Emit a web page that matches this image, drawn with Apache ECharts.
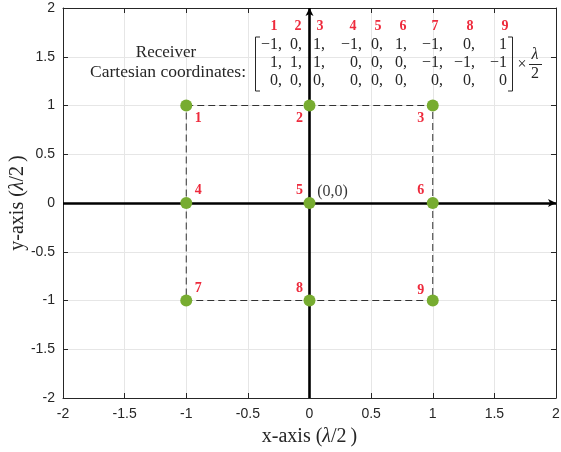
<!DOCTYPE html>
<html>
<head>
<meta charset="utf-8">
<script src="https://cdn.jsdelivr.net/npm/echarts@6/dist/echarts.min.js"></script>
<style>
  html, body { margin: 0; padding: 0; background: #fff; }
  #chart { width: 561px; height: 452px; }
</style>
</head>
<body>
<div id="chart"></div>
<script>
// Receiver positions in units of lambda/2
const receiverIds = ['1', '2', '3', '4', '5', '6', '7', '8', '9'];
const receiverX = [-1, 0, 1, -1, 0, 1, -1, 0, 1];
const receiverY = [1, 1, 1, 0, 0, 0, -1, -1, -1];
const receiverZ = [0, 0, 0, 0, 0, 0, 0, 0, 0];
// Outline of the array, walked around its border
const outlineOrder = ['1', '2', '3', '6', '9', '8', '7', '4', '1'];
const axisRange = [-2, 2];
const tickStep = 0.5;
const originText = '(0,0)';

// Label placement for each receiver number (pixel offsets from the marker)
const labelOffsets = [
  [12, 13], [-10, 13], [-12, 13],
  [12, -13], [-10, -13], [-12, -13],
  [12, -12], [-10, -12], [-12, -10]
];

const SERIF = '"Liberation Serif", "Times New Roman", serif';
const SANS = '"Liberation Sans", Arial, Helvetica, sans-serif';
const RED = '#ee2a3c';
const GREEN = '#77ac30';
const INK = '#262626';

const chart = echarts.init(document.getElementById('chart'), null, { renderer: 'canvas' });

const points = receiverIds.map((id, i) => ({
  value: [receiverX[i], receiverY[i]],
  label: {
    show: true,
    formatter: id,
    position: 'inside',
    offset: labelOffsets[i],
    color: RED,
    fontFamily: SERIF,
    fontWeight: 'bold',
    fontSize: 14
  }
}));

const outline = outlineOrder.map(id => {
  const i = receiverIds.indexOf(id);
  return [receiverX[i], receiverY[i]];
});

// Matrix text built from the receiver coordinates
const fmt = v => (v < 0 ? '\u2212' + Math.abs(v) : String(v));
const matrixRows = [receiverX, receiverY, receiverZ];
const colRight = [282, 302, 325, 362, 383, 407, 443, 475, 507];
const headerX = [274, 298, 320, 353, 378, 403, 435, 470, 505];
const rowY = [45, 63, 81];

const graphics = [];
receiverIds.forEach((id, j) => {
  graphics.push({
    type: 'text', z: 100,
    style: { text: id, x: headerX[j], y: 26, fill: RED, font: 'bold 14px ' + SERIF, align: 'center', verticalAlign: 'middle' }
  });
});
matrixRows.forEach((row, r) => {
  row.forEach((v, j) => {
    const txt = fmt(v) + (j < row.length - 1 ? ',' : '');
    graphics.push({
      type: 'text', z: 100,
      style: { text: txt, x: colRight[j], y: rowY[r], fill: INK, font: '16px ' + SERIF, align: 'right', verticalAlign: 'middle' }
    });
  });
});
// brackets
graphics.push({
  type: 'polyline', z: 100,
  shape: { points: [[260, 37], [255.5, 37], [255.5, 91], [260, 91]] },
  style: { stroke: INK, lineWidth: 1, fill: null }
});
graphics.push({
  type: 'polyline', z: 100,
  shape: { points: [[508, 37], [512.5, 37], [512.5, 91], [508, 91]] },
  style: { stroke: INK, lineWidth: 1, fill: null }
});
// scale factor  x lambda/2
graphics.push({
  type: 'text', z: 100,
  style: { text: '\u00d7', x: 522, y: 65, fill: INK, font: '16px ' + SERIF, align: 'center', verticalAlign: 'middle' }
});
graphics.push({
  type: 'text', z: 100,
  style: { text: '\u03bb', x: 535, y: 55, fill: INK, font: 'italic 16px ' + SERIF, align: 'center', verticalAlign: 'middle' }
});
graphics.push({
  type: 'line', z: 100,
  shape: { x1: 529, y1: 64.5, x2: 542, y2: 64.5 },
  style: { stroke: INK, lineWidth: 1 }
});
graphics.push({
  type: 'text', z: 100,
  style: { text: '2', x: 535, y: 74, fill: INK, font: '16px ' + SERIF, align: 'center', verticalAlign: 'middle' }
});
graphics.push({
  type: 'text', z: 100,
  style: { text: 'Receiver', x: 166, y: 53, fill: INK, font: '17px ' + SERIF, align: 'center', verticalAlign: 'middle' }
});
graphics.push({
  type: 'text', z: 100,
  style: { text: 'Cartesian coordinates:', x: 246, y: 72, fill: INK, font: '17.5px ' + SERIF, align: 'right', verticalAlign: 'middle' }
});

const nameRich = {
  a: { fontFamily: SERIF, fontSize: 20, color: INK },
  b: { fontFamily: SERIF, fontSize: 20, color: INK, fontStyle: 'italic' }
};

const boxAxis = (extra) => Object.assign({
  type: 'value',
  min: axisRange[0],
  max: axisRange[1],
  interval: tickStep,
  axisLine: { show: true, onZero: false, lineStyle: { color: INK, width: 1 } },
  axisTick: { show: true, inside: true, length: 5, lineStyle: { color: INK } },
  splitLine: { show: true, lineStyle: { color: '#e6e6e6', width: 1 } }
}, extra);

const option = {
  backgroundColor: '#fff',
  animation: false,
  grid: { left: 63, right: 5, top: 8, bottom: 54, containLabel: false, outerBoundsMode: 'none' },
  xAxis: [
    boxAxis({
      position: 'bottom',
      name: '{a|x-axis (}{b|\u03bb}{a|/2\u2009)}',
      nameLocation: 'middle',
      nameGap: 29,
      nameMoveOverlap: false,
      nameTextStyle: { rich: nameRich },
      axisLabel: { color: INK, fontFamily: SANS, fontSize: 14, margin: 9 }
    }),
    boxAxis({ position: 'top', axisLabel: { show: false }, splitLine: { show: false } })
  ],
  yAxis: [
    boxAxis({
      position: 'left',
      name: '{a|y-axis (}{b|\u03bb}{a|/2\u2009)}',
      nameLocation: 'middle',
      nameGap: 35,
      nameMoveOverlap: false,
      nameRotate: 90,
      nameTextStyle: { rich: nameRich },
      axisLabel: { color: INK, fontFamily: SANS, fontSize: 14, margin: 8 }
    }),
    boxAxis({ position: 'right', axisLabel: { show: false }, splitLine: { show: false } })
  ],
  graphic: graphics,
  series: [
    {
      name: 'outline',
      type: 'line',
      data: outline,
      symbol: 'none',
      silent: true,
      z: 2,
      lineStyle: { color: '#333', width: 1, type: [7, 4] }
    },
    {
      name: 'axes',
      type: 'line',
      data: [],
      silent: true,
      z: 3,
      markLine: {
        silent: true,
        symbol: ['none', 'arrow'],
        symbolSize: [6, 8],
        label: { show: false },
        lineStyle: { color: '#000', width: 2.6, type: 'solid' },
        data: [
          [{ coord: [axisRange[0], 0] }, { coord: [axisRange[1], 0] }],
          [{ coord: [0, axisRange[0]] }, { coord: [0, axisRange[1]] }]
        ]
      }
    },
    {
      name: 'origin',
      type: 'scatter',
      data: [{
        value: [0, 0],
        label: {
          show: true, formatter: originText, position: 'inside', offset: [23, -11],
          color: '#000', fontFamily: SERIF, fontSize: 16
        }
      }],
      symbolSize: 0,
      silent: true,
      z: 4
    },
    {
      name: 'receivers',
      type: 'scatter',
      data: points,
      symbol: 'circle',
      symbolSize: 12,
      itemStyle: { color: GREEN, opacity: 1 },
      z: 5
    }
  ]
};

chart.setOption(option);
</script>
</body>
</html>
